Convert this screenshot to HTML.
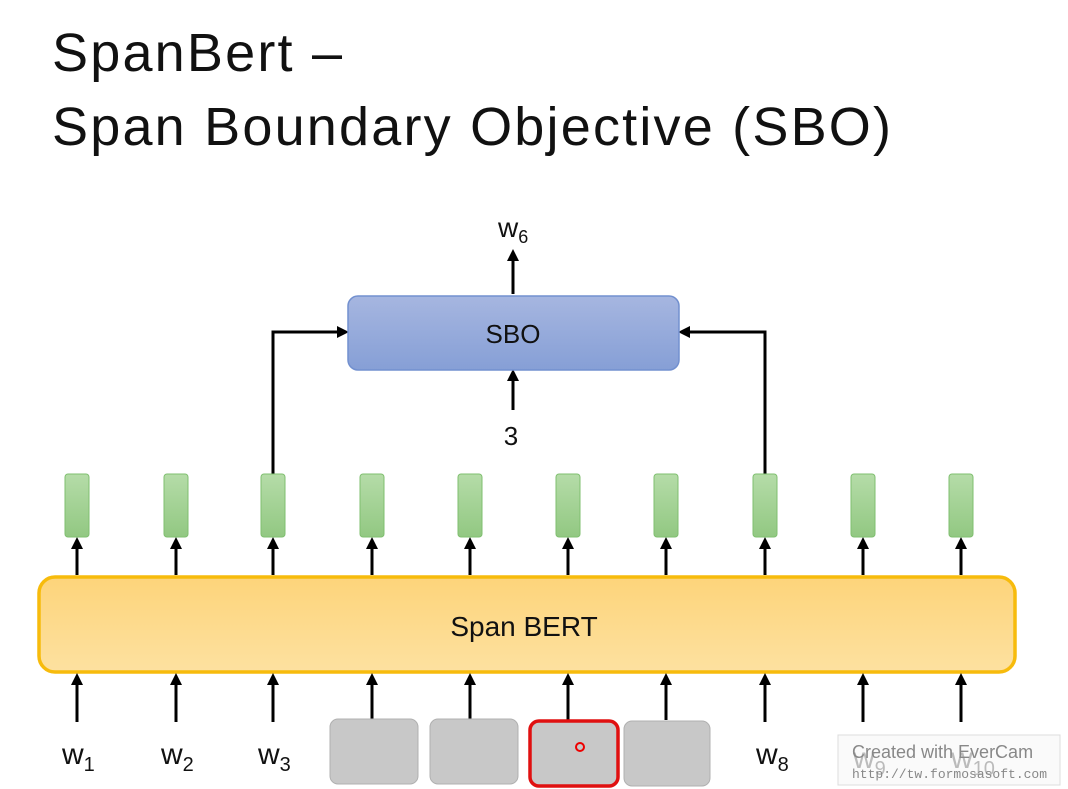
<!DOCTYPE html>
<html><head><style>
body{margin:0;width:1068px;height:789px;background:#fff;overflow:hidden;font-family:"Liberation Sans","DejaVu Sans",sans-serif;position:relative}
.t{position:absolute;left:52px;font-size:54px;color:#111;line-height:1;letter-spacing:2.2px}
</style></head><body>
<div class="t" style="top:26px">SpanBert –</div>
<div class="t" style="top:100px">Span Boundary Objective (SBO)</div>
<svg width="1068" height="789" style="position:absolute;left:0;top:0">
<defs>
<marker id="a" markerWidth="12" markerHeight="12" refX="9" refY="6" orient="auto" markerUnits="userSpaceOnUse" viewBox="0 0 12 12"><path d="M0,0 L12,6 L0,12z" fill="#000"/></marker>
<linearGradient id="g" x1="0" y1="0" x2="0" y2="1"><stop offset="0" stop-color="#b5dca8"/><stop offset="1" stop-color="#92c882"/></linearGradient>
<linearGradient id="b" x1="0" y1="0" x2="0" y2="1"><stop offset="0" stop-color="#a6b6e0"/><stop offset="1" stop-color="#869fd6"/></linearGradient>
<linearGradient id="y" x1="0" y1="0" x2="0" y2="1"><stop offset="0" stop-color="#fdd47a"/><stop offset="1" stop-color="#fde1a0"/></linearGradient>
</defs>
<g stroke="#000" stroke-width="3" fill="none">
<path d="M513,294 V252" marker-end="url(#a)"/>
<path d="M513,410 V372" marker-end="url(#a)"/>
<path d="M273,474 V332 H346" marker-end="url(#a)"/>
<path d="M765,474 V332 H681" marker-end="url(#a)"/>
</g>
<rect x="348" y="296" width="331" height="74" rx="10" fill="url(#b)" stroke="#7290cf" stroke-width="1.5"/>
<text x="513" y="343" font-size="26" text-anchor="middle" fill="#111">SBO</text>
<text x="511" y="445" font-size="26" text-anchor="middle" fill="#111">3</text>
<text x="498" y="237" font-size="28" fill="#111">w<tspan font-size="18" dy="6">6</tspan></text>
<rect x="39" y="577" width="976" height="95" rx="16" fill="url(#y)" stroke="#f7bb0c" stroke-width="3.5"/>
<text x="524" y="636" font-size="28" text-anchor="middle" fill="#111">Span BERT</text>
<g stroke="#000" stroke-width="3">
<path d="M77,575 V540" marker-end="url(#a)"/><path d="M176,575 V540" marker-end="url(#a)"/><path d="M273,575 V540" marker-end="url(#a)"/><path d="M372,575 V540" marker-end="url(#a)"/><path d="M470,575 V540" marker-end="url(#a)"/><path d="M568,575 V540" marker-end="url(#a)"/><path d="M666,575 V540" marker-end="url(#a)"/><path d="M765,575 V540" marker-end="url(#a)"/><path d="M863,575 V540" marker-end="url(#a)"/><path d="M961,575 V540" marker-end="url(#a)"/>
<path d="M77,722 V676" marker-end="url(#a)"/><path d="M176,722 V676" marker-end="url(#a)"/><path d="M273,722 V676" marker-end="url(#a)"/><path d="M372,720 V676" marker-end="url(#a)"/><path d="M470,720 V676" marker-end="url(#a)"/><path d="M568,720 V676" marker-end="url(#a)"/><path d="M666,720 V676" marker-end="url(#a)"/><path d="M765,722 V676" marker-end="url(#a)"/><path d="M863,722 V676" marker-end="url(#a)"/><path d="M961,722 V676" marker-end="url(#a)"/>
</g>
<g fill="url(#g)" stroke="#7fbf6f" stroke-width="1">
<rect x="65" y="474" width="24" height="63" rx="3"/><rect x="164" y="474" width="24" height="63" rx="3"/><rect x="261" y="474" width="24" height="63" rx="3"/><rect x="360" y="474" width="24" height="63" rx="3"/><rect x="458" y="474" width="24" height="63" rx="3"/><rect x="556" y="474" width="24" height="63" rx="3"/><rect x="654" y="474" width="24" height="63" rx="3"/><rect x="753" y="474" width="24" height="63" rx="3"/><rect x="851" y="474" width="24" height="63" rx="3"/><rect x="949" y="474" width="24" height="63" rx="3"/>
</g>
<g font-size="30" fill="#111">
<text x="62" y="764">w<tspan font-size="20" dy="7">1</tspan></text>
<text x="161" y="764">w<tspan font-size="20" dy="7">2</tspan></text>
<text x="258" y="764">w<tspan font-size="20" dy="7">3</tspan></text>
<text x="756" y="764">w<tspan font-size="20" dy="7">8</tspan></text>
</g>
<g fill="#c8c8c8" stroke="#b0b0b0">
<rect x="330" y="719" width="88" height="65" rx="8"/><rect x="430" y="719" width="88" height="65" rx="8"/><rect x="530" y="721" width="88" height="65" rx="8"/><rect x="624" y="721" width="86" height="65" rx="8"/>
</g>
<rect x="530" y="721" width="88" height="65" rx="9" fill="none" stroke="#e01010" stroke-width="3.5"/>
<circle cx="580" cy="747" r="4" fill="none" stroke="#e00" stroke-width="2"/>
<rect x="838" y="735" width="222" height="50" fill="#fafafa" stroke="#ddd"/>
<g fill="#bbb" font-size="30"><text x="853" y="768">w<tspan font-size="20" dy="7">9</tspan></text><text x="951" y="768">w<tspan font-size="20" dy="7">10</tspan></text></g>
<text x="852" y="758" font-size="18" fill="#888">Created  with EverCam</text>
<text x="852" y="778" font-size="13" fill="#888" font-family="Liberation Mono,monospace">http://tw.formosasoft.com</text>
</svg>
</body></html>
